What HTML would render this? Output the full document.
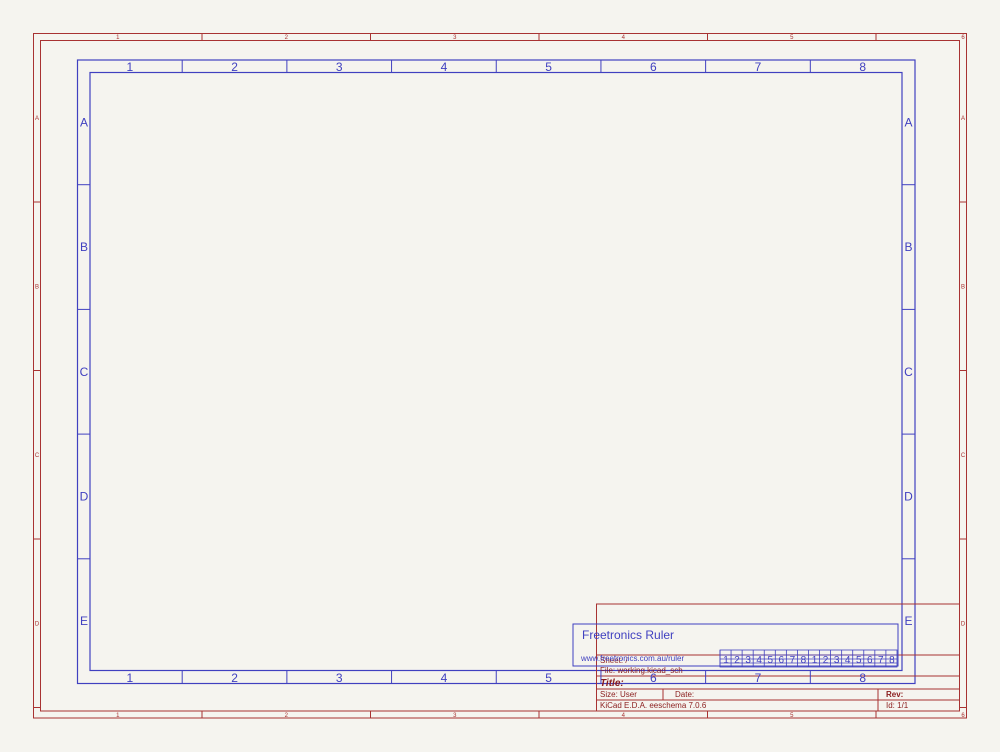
<!DOCTYPE html>
<html><head><meta charset="utf-8"><style>
html,body{margin:0;padding:0;background:#f5f4ef;}
svg{display:block;font-family:"Liberation Sans",sans-serif;}
</style></head><body>
<svg id="s" width="1000" height="752" viewBox="0 0 1000 752">
<rect x="0" y="0" width="1000" height="752" fill="#f5f4ef"/>
<g id="red" stroke="#a83232" stroke-width="1" fill="none">
<rect x="33.5" y="33.5" width="933" height="684.5"/>
<rect x="40.5" y="40.5" width="919" height="670.5"/>
</g>
<g id="blue" stroke="#4040c0" stroke-width="1.2" fill="none">
<rect x="77.5" y="60" width="837.5" height="623.5"/>
<rect x="90" y="72.5" width="812" height="598"/>
</g>
<g stroke="#a83232" stroke-width="1" fill="none">
<rect x="596.5" y="604" width="363" height="107"/>
<line x1="596.5" y1="655" x2="959.5" y2="655"/>
<line x1="596.5" y1="676" x2="959.5" y2="676"/>
<line x1="596.5" y1="689" x2="959.5" y2="689"/>
<line x1="596.5" y1="700" x2="959.5" y2="700"/>
<line x1="663" y1="689" x2="663" y2="700"/>
<line x1="878" y1="689" x2="878" y2="711"/>
</g>
<g font-size="8" fill="#8a1c1c">
<text x="600" y="663">Sheet: /</text>
<text x="600" y="673">File: working.kicad_sch</text>
<text x="600" y="686" font-weight="bold" font-style="italic" font-size="10">Title:</text>
<text x="600" y="697">Size: User</text>
<text x="675" y="697">Date:</text>
<text x="600" y="708">KiCad E.D.A.  eeschema 7.0.6</text>
<text x="886" y="697" font-weight="bold">Rev:</text>
<text x="886" y="708">Id: 1/1</text>
</g>
<g>
<rect x="573" y="624" width="325" height="42" fill="none" stroke="#4040c0" stroke-width="1"/>
<text x="582" y="639" font-size="12" fill="#4040c0">Freetronics Ruler</text>
<text x="581" y="661" font-size="8" fill="#4040c0">www.freetronics.com.au/ruler</text>
</g>
<g id="ruler" stroke="#4040c0" stroke-width="0.8" fill="none"></g>
<g id="labels"></g>
</svg>
<script>
const NS="http://www.w3.org/2000/svg";
const svg=document.getElementById('s');
const redCols=["1","2","3","4","5","6"];
const redRows=["A","B","C","D"];
const blueCols=["1","2","3","4","5","6","7","8"];
const blueRows=["A","B","C","D","E"];
function el(t,a,p){const e=document.createElementNS(NS,t);for(const k in a)e.setAttribute(k,a[k]);(p||svg).appendChild(e);return e;}
function txt(x,y,s,size,col){const t=el('text',{x:x,y:y,'font-size':size,fill:col,'text-anchor':'middle'});t.textContent=s;

return t;}
const R="#a83232",B="#4040c0";
// red columns
const rw=168.5;
redCols.forEach((c,i)=>{const x=33.5+rw*(i+1);
 if(i<redCols.length-1){el('line',{x1:x,y1:33.5,x2:x,y2:40.5,stroke:R});el('line',{x1:x,y1:711,x2:x,y2:718,stroke:R});}
 const cx=i<redCols.length-1?33.5+rw*(i+0.5):963;
 txt(cx,39,c,6,R);txt(cx,717,c,6,R);});
redRows.forEach((r,i)=>{const y=33.5+rw*(i+1);
 el('line',{x1:33.5,y1:y,x2:40.5,y2:y,stroke:R});el('line',{x1:959.5,y1:y,x2:966.5,y2:y,stroke:R});
 const cy=33.5+rw*(i+0.5)+2;txt(37,cy,r,6,R);txt(963,cy,r,6,R);});
// blue columns
const bw=(915-77.5)/8;
blueCols.forEach((c,i)=>{const x=77.5+bw*(i+1);
 if(i<7){el('line',{x1:x,y1:60,x2:x,y2:72.5,stroke:B});el('line',{x1:x,y1:670.5,x2:x,y2:683.5,stroke:B});}
 const cx=77.5+bw*(i+0.5);txt(cx,71,c,12,B);txt(cx,682,c,12,B);});
const bh=(683.5-60)/5;
blueRows.forEach((r,i)=>{const y=60+bh*(i+1);
 if(i<4){el('line',{x1:77.5,y1:y,x2:90,y2:y,stroke:B});el('line',{x1:902,y1:y,x2:915,y2:y,stroke:B});}
 const cy=60+bh*(i+0.5)+4;txt(84,cy,r,12,B);txt(908.5,cy,r,12,B);});
// mini ruler
const g=document.getElementById('ruler');
el('rect',{x:720,y:650,width:177,height:17},g);
[655,659,663].forEach(y=>el('line',{x1:720,y1:y,x2:897,y2:y},g));
const mini=["1","2","3","4","5","6","7","8","1","2","3","4","5","6","7","8"];
mini.forEach((m,i)=>{const x=720+i*11.06;el('line',{x1:x,y1:650,x2:x,y2:667},g);
 txt(x+6,663,m,10,B);});
</script>
</body></html>
